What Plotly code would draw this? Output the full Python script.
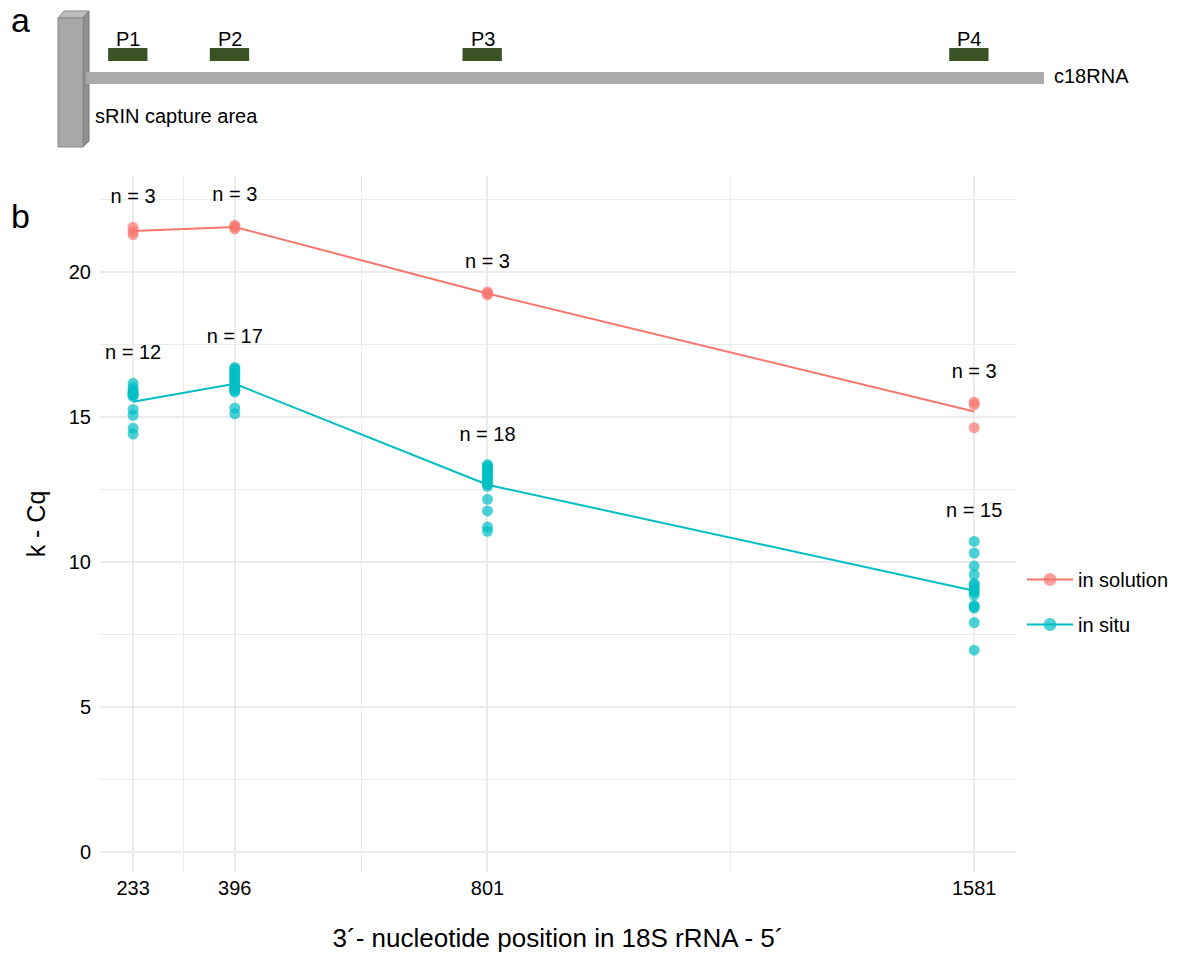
import numpy as np
import plotly.graph_objects as go

# ---------------- data ----------------
positions = [233, 396, 801, 1581]
tick_labels = ["233", "396", "801", "1581"]

solution_233 = [21.53, 21.39, 21.28]
solution_396 = [21.6, 21.55, 21.48]
solution_801 = [19.3, 19.25, 19.2]
solution_1581 = [15.5, 15.42, 14.62]

situ_233 = [16.15, 16.0, 15.9, 15.85, 15.8, 15.75, 15.75, 15.7, 15.25, 15.05, 14.6, 14.4]
situ_396 = [16.7, 16.65, 16.6, 16.5, 16.45, 16.4, 16.3, 16.25, 16.2, 16.1, 16.05, 16.0,
            15.95, 15.9, 15.85, 15.3, 15.1]
situ_801 = [13.35, 13.3, 13.25, 13.2, 13.1, 13.05, 13.0, 12.95, 12.9, 12.8, 12.75, 12.7,
            12.65, 12.6, 12.15, 11.75, 11.2, 11.05]
situ_1581 = [10.7, 10.3, 9.85, 9.55, 9.25, 9.2, 9.1, 9.0, 8.95, 8.85, 8.5, 8.45, 8.4, 7.9, 6.95]

series_names = ["in solution", "in situ"]
series_colors = ["#F8766D", "#00BFC4"]
probe_labels = ["P1", "P2", "P3", "P4"]
y_ticks = [0, 5, 10, 15, 20]

groups = {
    "in solution": [solution_233, solution_396, solution_801, solution_1581],
    "in situ": [situ_233, situ_396, situ_801, situ_1581],
}

FONT = "Liberation Sans, Arial, Helvetica, sans-serif"
W, H = 1181, 954

fig = go.Figure()

# panel b traces
for name, color in zip(series_names, series_colors):
    vals = groups[name]
    xs, ys = [], []
    for p, v in zip(positions, vals):
        xs += [p] * len(v)
        ys += list(v)
    fig.add_trace(go.Scatter(
        x=xs, y=ys, mode="markers", showlegend=False,
        marker=dict(color=color, size=11, opacity=0.7, line=dict(width=0)),
        hoverinfo="x+y"))
    means = [float(np.mean(v)) for v in vals]
    fig.add_trace(go.Scatter(
        x=positions, y=means, mode="lines", showlegend=False,
        line=dict(color=color, width=2)))
    # n labels
    fig.add_trace(go.Scatter(
        x=positions, y=[max(v) + 1.0 for v in vals], mode="text",
        text=[f"n = {len(v)}" for v in vals], textposition="middle center",
        textfont=dict(family=FONT, size=20, color="black"), showlegend=False,
        hoverinfo="skip"))

# legend entries
for i, (name, color) in enumerate(zip(series_names, series_colors)):
    fig.add_trace(go.Scatter(
        x=[None], y=[None], mode="lines+markers", name=name, legendgroup=name,
        line=dict(color=color, width=2),
        marker=dict(color=color, size=13, opacity=0.7)))

# ---------------- layout geometry (pixels) ----------------
px_left, px_right = 100, 1016
px_top, px_bottom = 176, 872

def fx(px):
    return px / W

def fy(py):
    return (H - py) / H

x_min, x_max = 180, 1648

minor_x = [(a + b) / 2 for a, b in zip(positions[:-1], positions[1:])]

fig.update_layout(
    width=W, height=H,
    margin=dict(l=0, r=0, t=0, b=0),
    paper_bgcolor="white", plot_bgcolor="white",
    font=dict(family=FONT, size=20, color="black"),
    xaxis=dict(
        domain=[fx(px_left), fx(px_right)], range=[x_min, x_max],
        tickmode="array", tickvals=positions, ticktext=tick_labels,
        showgrid=True, gridcolor="#EBEBEB", gridwidth=2,
        minor=dict(tickmode="array", tickvals=minor_x, showgrid=True,
                   gridcolor="#EBEBEB", gridwidth=1),
        zeroline=False, showline=False, ticks="",
        tickfont=dict(size=20, family=FONT), ticklabelstandoff=2,
        title=dict(text="3\u00b4- nucleotide position in 18S rRNA - 5\u00b4",
                   font=dict(size=26, family=FONT), standoff=30),
        anchor="y",
    ),
    yaxis=dict(
        domain=[fy(px_bottom), fy(px_top)], range=[-0.7, 23.3],
        tickmode="array", tickvals=y_ticks,
        showgrid=True, gridcolor="#EBEBEB", gridwidth=2,
        minor=dict(dtick=2.5, tick0=0, showgrid=True, gridcolor="#EBEBEB", gridwidth=1),
        zeroline=False, showline=False, ticks="",
        tickfont=dict(size=20, family=FONT), ticklabelstandoff=8,
        title=dict(text="k - Cq", font=dict(size=25, family=FONT), standoff=16),
        anchor="x",
    ),
    # schematic axes (pixel units)
    xaxis2=dict(domain=[0, 1], range=[0, W], visible=False, anchor="y2", fixedrange=True),
    yaxis2=dict(domain=[fy(160), 1], range=[160, 0], visible=False, anchor="x2", fixedrange=True),
    legend=dict(
        x=fx(1022), y=fy(560), xanchor="left", yanchor="top",
        font=dict(size=20, family=FONT), bgcolor="rgba(0,0,0,0)",
        tracegroupgap=16, itemwidth=46,
    ),
)

shapes = []
# capture pillar (3D box)
shapes.append(dict(type="path", xref="x2", yref="y2",
                   path="M 58 18 L 64 11 L 89 11 L 83 18 Z",
                   fillcolor="#BDBDBD", line=dict(color="#8A8A8A", width=1)))
shapes.append(dict(type="path", xref="x2", yref="y2",
                   path="M 83 18 L 89 11 L 89 141 L 83 147 Z",
                   fillcolor="#8F8F8F", line=dict(color="#7A7A7A", width=1)))
shapes.append(dict(type="rect", xref="x2", yref="y2", x0=58, x1=83, y0=18, y1=147,
                   fillcolor="#A8A8A8", line=dict(color="#8A8A8A", width=1)))
# rRNA bar
shapes.append(dict(type="rect", xref="x2", yref="y2", x0=86, x1=1044, y0=72, y1=84,
                   fillcolor="#AAAAAA", line=dict(width=0)))
# probes, aligned with data positions
for p in positions:
    shapes.append(dict(type="rect", xref="x", yref="y2", x0=p - 40, x1=p + 23,
                       y0=48, y1=61, fillcolor="#3A5325", line=dict(width=0)))
fig.update_layout(shapes=shapes)

annotations = []
for p, lab in zip(positions, probe_labels):
    annotations.append(dict(x=p - 8, y=39, xref="x", yref="y2", text=lab, showarrow=False,
                            font=dict(size=20, family=FONT), xanchor="center", yanchor="middle"))
annotations.append(dict(x=1052, y=76, xref="x2", yref="y2", text="c18RNA", showarrow=False,
                        font=dict(size=20, family=FONT), xanchor="left", yanchor="middle"))
annotations.append(dict(x=93, y=116, xref="x2", yref="y2", text="sRIN capture area", showarrow=False,
                        font=dict(size=20, family=FONT), xanchor="left", yanchor="middle"))
annotations.append(dict(x=fx(9), y=fy(20), xref="paper", yref="paper", text="a", showarrow=False,
                        font=dict(size=34, family=FONT), xanchor="left", yanchor="middle"))
annotations.append(dict(x=fx(9), y=fy(216), xref="paper", yref="paper", text="b", showarrow=False,
                        font=dict(size=34, family=FONT), xanchor="left", yanchor="middle"))
fig.update_layout(annotations=annotations)

fig.write_html("out.html")
